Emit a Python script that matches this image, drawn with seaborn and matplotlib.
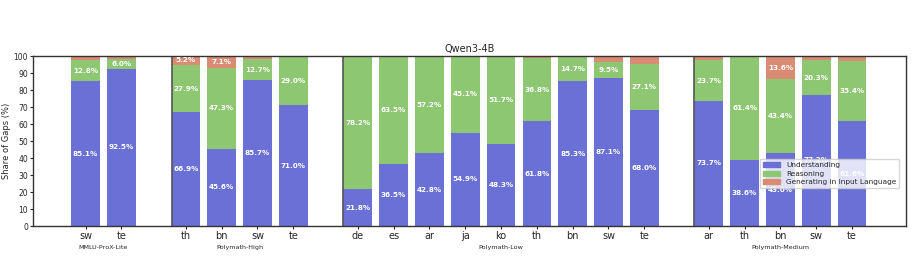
import numpy as np
import pandas as pd
import matplotlib
matplotlib.use("Agg")
import matplotlib.pyplot as plt
import seaborn as sns
from matplotlib.patches import Patch

# benchmark groups and their languages
groups = ["MMLU-ProX-Lite", "Polymath-High", "Polymath-Low", "Polymath-Medium"]
group_langs = [
    ["sw", "te"],
    ["th", "bn", "sw", "te"],
    ["de", "es", "ar", "ja", "ko", "th", "bn", "sw", "te"],
    ["ar", "th", "bn", "sw", "te"],
]

# share of gaps (%) per bar, in the same order as the languages above
understanding = [85.1, 92.5,
                 66.9, 45.6, 85.7, 71.0,
                 21.8, 36.5, 42.8, 54.9, 48.3, 61.8, 85.3, 87.1, 68.0,
                 73.7, 38.6, 43.0, 77.2, 61.6]
reasoning = [12.8, 6.0,
             27.9, 47.3, 12.7, 29.0,
             78.2, 63.5, 57.2, 45.1, 51.7, 36.8, 14.7, 9.5, 27.1,
             23.7, 61.4, 43.4, 20.3, 35.4]
generating = [2.1, 1.5,
              5.2, 7.1, 1.6, 0.0,
              0.0, 0.0, 0.0, 0.0, 0.0, 1.4, 0.0, 3.4, 4.9,
              2.6, 0.0, 13.6, 2.5, 3.0]

categories = ["Understanding", "Reasoning", "Generating in Input Language"]
colors = ["#6b70d6", "#8dc772", "#d98b73"]

# x positions: step 1 inside a group, wider gap between groups
pos = []
group_starts = []
x = 0.0
for langs in group_langs:
    group_starts.append(x)
    for _ in langs:
        pos.append(x)
        x += 1
    x += 0.8
labels = [l for langs in group_langs for l in langs]

df = pd.DataFrame({
    "pos": pos,
    "lang": labels,
    "U": understanding,
    "R": reasoning,
    "G": generating,
})
df["UR"] = df["U"] + df["R"]
df["URG"] = df["UR"] + df["G"]

sns.set_style("ticks")
plt.rcParams["font.family"] = ["DejaVu Sans"]

fig = plt.figure(figsize=(9.14, 2.56), dpi=100)
ax = fig.add_axes([0.036, 0.117, 0.955, 0.664])

# stacked bars drawn as overlapping cumulative totals
for col, c in zip(["URG", "UR", "U"], colors[::-1]):
    sns.barplot(data=df, x="pos", y=col, native_scale=True, color=c,
                saturation=1, width=0.8, linewidth=0, ax=ax)

# value labels
for _, row in df.iterrows():
    bottom = 0
    for v in [row["U"], row["R"], row["G"]]:
        if v >= 5:
            ax.text(row["pos"], bottom + v / 2, f"{v:.1f}%", ha="center",
                    va="center", color="white", fontsize=5.2, fontweight="bold")
        bottom += v

# group separators and group names
for i, (g, start) in enumerate(zip(groups, group_starts)):
    if i > 0:
        ax.axvline(start - 0.4, color="#555555", lw=1.2)
    n = len(group_langs[i])
    ax.text(start + (n - 1) / 2, -0.125, g, transform=ax.get_xaxis_transform(),
            ha="center", va="center", fontsize=4.6)

for s in ax.spines.values():
    s.set_color("#333333")
    s.set_linewidth(1.0)

ax.set_xlim(-1.47, pos[-1] + 1.5)
ax.set_ylim(0, 100)
ax.set_xticks(pos)
ax.set_xticklabels(labels, fontsize=7)
ax.set_yticks(range(0, 101, 10))
ax.tick_params(axis="y", labelsize=5.5, length=2, pad=1.5)
ax.tick_params(axis="x", length=2, pad=1.5)
ax.set_xlabel("")
ax.set_ylabel("Share of Gaps (%)", fontsize=6, labelpad=2)
ax.set_title("Qwen3-4B", fontsize=7, pad=3)

handles = [Patch(color=c, label=l) for c, l in zip(colors, categories)]
ax.legend(handles=handles, loc="lower right", bbox_to_anchor=(0.997, 0.2),
          fontsize=5.3, handlelength=2.4, borderpad=0.4, labelspacing=0.35)

fig.savefig("out.png", dpi=100)
